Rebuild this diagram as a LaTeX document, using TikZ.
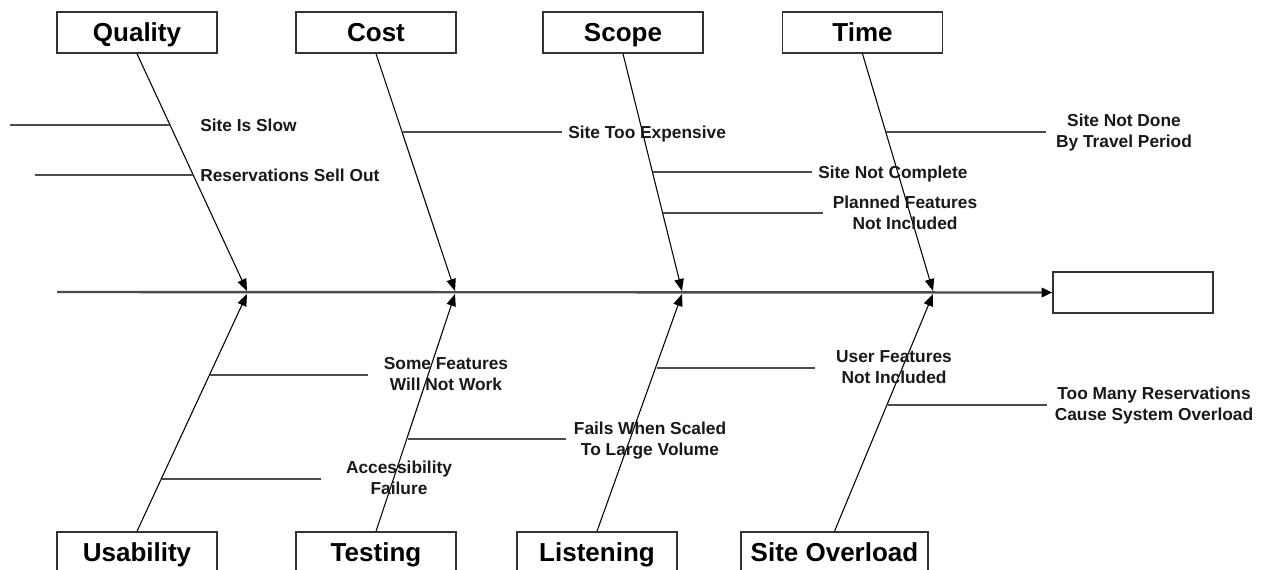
\documentclass[tikz,border=0pt]{standalone}
\usepackage{fontspec}
\setmainfont{Liberation Sans}
\usetikzlibrary{arrows.meta}
\begin{document}
\begin{tikzpicture}[x=0.75pt,y=-0.75pt,
  catbox/.style={draw=black!80, line width=1.1pt, minimum width=120pt, minimum height=30.75pt,
    inner sep=0pt, font=\fontsize{19.5}{22}\selectfont\bfseries, text height=14pt, text depth=0pt},
  lbl/.style={inner sep=0pt, align=center, font=\fontsize{13}{15.75}\selectfont\bfseries,
    text height=9.4pt, text depth=0pt, text=black!90},
  bone/.style={draw=black, line width=0.8pt, -{Triangle[length=9pt,width=7pt]}},
  spine/.style={draw=black!70, line width=1.8pt, -{Triangle[length=8pt,width=7pt,fill=black,color=black]}},
  twig/.style={draw=black!70, line width=1.2pt}]
\clip (0,0) rectangle (1271,569);
\fill[white] (0,0) rectangle (1271,569);

% category boxes
\node[catbox] (Q) at (137,32.5) {Quality};
\node[catbox] (C) at (376,32.5) {Cost};
\node[catbox] (S) at (623,32.5) {Scope};
\node[catbox] (T) at (862.5,32.5) {Time};
\node[catbox] (U) at (137,552.5) {Usability};
\node[catbox] (Te) at (376,552.5) {Testing};
\node[catbox] (L) at (597,552.5) {Listening};
\node[catbox, minimum width=140pt] (O) at (834.5,552.5) {Site Overload};
\node[catbox] (E) at (1133,292.5) {};

% spine
\coordinate (start) at (57,292);
\draw[spine] (start) -- (E.west);

% bone tips
\coordinate (qt) at (247,291);
\coordinate (ct) at (455,291);
\coordinate (st) at (682,291);
\coordinate (tt) at (933,291);
\coordinate (ut) at (247,294);
\coordinate (tet) at (455,294);
\coordinate (lt) at (682,294);
\coordinate (ot) at (933,294);

\draw[bone] (Q.south) -- (qt);
\draw[bone] (C.south) -- (ct);
\draw[bone] (S.south) -- (st);
\draw[bone] (T.south) -- (tt);
\draw[bone] (U.north) -- (ut);
\draw[bone] (Te.north) -- (tet);
\draw[bone] (L.north) -- (lt);
\draw[bone] (O.north) -- (ot);

% branch points and ends
\coordinate (b1a) at (171,125);  \coordinate (b1b) at (10,125);
\coordinate (b2a) at (193,175);  \coordinate (b2b) at (35,175);
\coordinate (b3a) at (403,132);  \coordinate (b3b) at (562,132);
\coordinate (b4a) at (653,172);  \coordinate (b4b) at (812,172);
\coordinate (b5a) at (663,213);  \coordinate (b5b) at (823,213);
\coordinate (b6a) at (886,132);  \coordinate (b6b) at (1046,132);
\coordinate (b7a) at (210,375);  \coordinate (b7b) at (368,375);
\coordinate (b8a) at (162,479);  \coordinate (b8b) at (321,479);
\coordinate (b9a) at (408,439);  \coordinate (b9b) at (566,439);
\coordinate (b10a) at (657,368); \coordinate (b10b) at (815,368);
\coordinate (b11a) at (888,405); \coordinate (b11b) at (1047,405);

\foreach \i in {1,...,11} {\draw[twig] (b\i a) -- (b\i b);}

% labels
\node[lbl, anchor=west] (l1) at (200,125) {Site Is Slow};
\node[lbl, anchor=west] (l2) at (200,175) {Reservations Sell Out};
\node[lbl, anchor=west] (l3) at (568,132) {Site Too Expensive};
\node[lbl, anchor=west] (l4) at (818,172) {Site Not Complete};
\node[lbl] (l5) at (905,223.5) {Planned Features\\Not Included};
\node[lbl] (l6) at (1124,141.5) {Site Not Done\\By Travel Period};
\node[lbl] (l7) at (446,384.5) {Some Features\\Will Not Work};
\node[lbl] (l8) at (399,488.5) {Accessibility\\Failure};
\node[lbl] (l9) at (650,449) {Fails When Scaled\\To Large Volume};
\node[lbl] (l10) at (894,377) {User Features\\Not Included};
\node[lbl] (l11) at (1154,414) {Too Many Reservations\\Cause System Overload};
\end{tikzpicture}
\end{document}
